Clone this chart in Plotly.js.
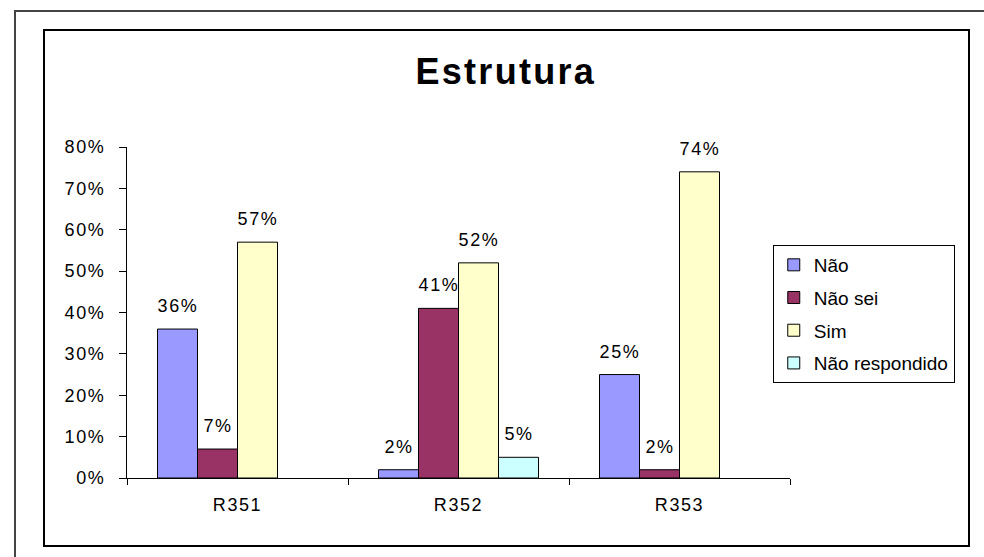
<!DOCTYPE html>
<html>
<head>
<meta charset="utf-8">
<script src="https://cdn.plot.ly/plotly-3.0.1.min.js"></script>
<style>
  html, body { margin: 0; padding: 0; background: #ffffff; width: 984px; height: 557px; overflow: hidden; }
  #outer { position: absolute; left: 14px; top: 10px; width: 970px; height: 547px; border-left: 2px solid #444; border-top: 2px solid #444; box-sizing: border-box; }
  #inner { position: absolute; left: 43px; top: 29px; width: 927px; height: 518px; border: 2px solid #000; box-sizing: border-box; }
  #chart { position: absolute; left: 0; top: 0; width: 984px; height: 557px; }
  #chart text { letter-spacing: 1.6px; }
  #chart .gtitle { letter-spacing: 2.3px; }
  #chart .legend text { letter-spacing: 0px; }
</style>
</head>
<body>
<div id="outer"></div>
<div id="inner"></div>
<div id="chart"></div>
<script>
const categories = ["R351", "R352", "R353"];
const seriesNames = ["Não", "Não sei", "Sim", "Não respondido"];
const seriesColors = ["#9999FF", "#993366", "#FFFFCC", "#CCFFFF"];
const naoValues = [0.36, 0.02, 0.25];
const naoSeiValues = [0.07, 0.41, 0.02];
const simValues = [0.57, 0.52, 0.74];
const naoRespondidoValues = [null, 0.05, null];
const yTickValues = [0, 0.1, 0.2, 0.3, 0.4, 0.5, 0.6, 0.7, 0.8];
const yTickLabels = ["0%", "10%", "20%", "30%", "40%", "50%", "60%", "70%", "80%"];

const allSeries = [naoValues, naoSeiValues, simValues, naoRespondidoValues];
const font = "Liberation Sans, Arial, sans-serif";
const bargap = 0.276;

const traces = allSeries.map((vals, i) => ({
  type: "bar",
  name: seriesNames[i],
  x: categories,
  y: vals,
  legendgroup: "g" + i,
  marker: { color: seriesColors[i], line: { color: "#000000", width: 1 } },
  hoverinfo: "skip"
}));

const n = allSeries.length;
const bw = (1 - bargap) / n;
const annotations = [];
allSeries.forEach((vals, i) => {
  vals.forEach((v, j) => {
    if (v !== null && v > 0) {
      annotations.push({
        x: j - (1 - bargap) / 2 + (i + 0.5) * bw,
        y: v,
        xref: "x", yref: "y",
        text: Math.round(v * 100) + "%",
        showarrow: false,
        yanchor: "bottom",
        yshift: 11,
        font: { family: font, size: 18, color: "#000000" }
      });
    }
  });
});

const layout = {
  width: 984, height: 557,
  margin: { l: 127, r: 194, t: 147, b: 79 },
  paper_bgcolor: "rgba(0,0,0,0)",
  plot_bgcolor: "rgba(0,0,0,0)",
  barmode: "group",
  bargap: bargap,
  bargroupgap: 0,
  font: { family: font, size: 18, color: "#000000" },
  title: {
    text: "<b>Estrutura</b>",
    xref: "container", yref: "container",
    x: 0.514, y: 0.871, xanchor: "center", yanchor: "middle",
    font: { family: font, size: 36, color: "#000000" }
  },
  xaxis: {
    type: "category",
    showline: true, linecolor: "#000000", linewidth: 1,
    ticks: "outside", tickson: "boundaries", ticklen: 6, tickcolor: "#000000",
    ticklabelstandoff: 10,
    showgrid: false, zeroline: false,
    tickfont: { family: font, size: 18, color: "#000000" },
    fixedrange: true
  },
  yaxis: {
    range: [0, 0.8],
    tickvals: yTickValues, ticktext: yTickLabels,
    showline: true, linecolor: "#000000", linewidth: 1,
    ticks: "outside", ticklen: 7, tickcolor: "#000000",
    ticklabelstandoff: 10,
    showgrid: false, zeroline: false,
    tickfont: { family: font, size: 18, color: "#000000" },
    fixedrange: true
  },
  showlegend: true,
  legend: {
    x: 0.974, y: 0.704, xanchor: "left", yanchor: "top",
    bordercolor: "#000000", borderwidth: 1,
    bgcolor: "#ffffff",
    traceorder: "grouped",
    tracegroupgap: 5,
    font: { family: font, size: 19, color: "#000000" }
  },
  annotations: annotations
};

Plotly.newPlot("chart", traces, layout, { displayModeBar: false, staticPlot: true });
</script>
</body>
</html>
